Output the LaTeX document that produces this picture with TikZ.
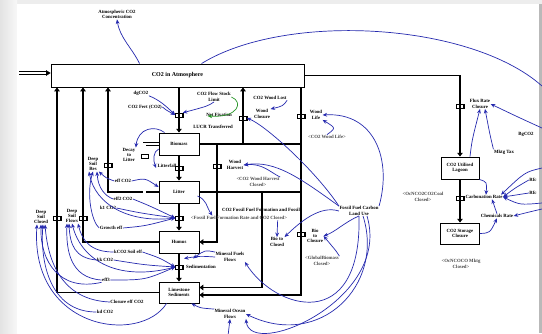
\documentclass[tikz,border=0pt]{standalone}
\usepackage{fontspec}
\setmainfont{Liberation Serif}
\usetikzlibrary{arrows.meta,calc}
\definecolor{linkblue}{RGB}{38,42,175}
\definecolor{linkgreen}{RGB}{40,150,40}
\newcommand\dgfont{\fontsize{4.8}{5.3}\selectfont\bfseries}
\newcommand\dgbig{\fontsize{6}{6.5}\selectfont\bfseries}
\tikzset{
  stock/.style={draw, line width=0.9pt, fill=white, inner sep=0pt, font=\dgfont, align=center},
  pipe/.style={line width=1.8pt},
  flowp/.style={line width=1.8pt, -{Triangle[length=3.8pt,width=5.5pt]}},
  dpipe/.style={double, double distance=2.2pt, line width=0.6pt},
  valve/.style={draw, line width=0.5pt, minimum width=7pt, minimum height=4pt, inner sep=0pt},
  lbl/.style={font=\dgfont, align=center, inner sep=0.4pt},
  shadowlbl/.style={lbl, text=black!72},
  link/.style={draw=linkblue, line width=0.7pt, -{Stealth[length=4.5pt,width=3.8pt]}},
  linkn/.style={draw=linkblue, line width=0.7pt},
  glink/.style={draw=linkgreen, line width=0.7pt, -{Stealth[length=4.5pt,width=3.8pt]}},
}
\begin{document}
\begin{tikzpicture}[x=1pt,y=-1pt]
\useasboundingbox (0,0) rectangle (542,333);
% page background
\fill[gray!14] (0,0) rectangle (542,333);
\shade[left color=gray!22, right color=gray!6] (0,0) rectangle (17,333);
\fill[white] (17,4) rectangle (539,333);
\fill[gray!55] (539,4) rectangle (542,333);

% ---------- stocks ----------
\node[stock, font=\dgbig, minimum width=253pt, minimum height=23pt] (atm) at (177.5,75.5) {CO2 in Atmosphere};
\node[stock, minimum width=40pt, minimum height=22pt] (bio) at (179,144) {Biomass};
\node[stock, minimum width=40pt, minimum height=22pt] (oil) at (179,192) {Litter};
\node[stock, minimum width=40pt, minimum height=22pt] (hum) at (179,242) {Humus};
\node[stock, minimum width=40pt, minimum height=21pt] (lime) at (179,292.5) {Limestone\\Sediments};
\node[stock, minimum width=38pt, minimum height=22pt] (lag) at (460,168) {CO2 Utilised\\Lagoon};
\node[stock, minimum width=39pt, minimum height=21pt] (sto) at (460,233.5) {CO2 Storage\\Closure};

% ---------- junction coordinates ----------
\coordinate (src) at (19,73);
\coordinate (j1) at (243,144);
\coordinate (j2) at (217,144);
\coordinate (j3) at (301,144);
\coordinate (j4) at (262,192);
\coordinate (d1) at (144.5,144);
\coordinate (d2) at (144.5,237.5);
\coordinate (bigEnd) at (542,86);
\coordinate (rightA) at (542,128);
\coordinate (rightB) at (542,168);
\coordinate (rightC) at (542,203);
\coordinate (rightD) at (542,209);
\coordinate (bot1) at (228,336);

% ---------- valves ----------
\node[valve] (v1) at (179,115) {};
\node[valve] (v2) at (179,168) {};
\node[valve] (v3) at (179,218) {};
\node[valve] (v4) at (179,267) {};
\node[valve] (v5) at (57,218) {};
\node[valve] (v6) at (83,218) {};
\node[valve] (v7) at (108,165) {};
\node[valve] (v8) at (243,118) {};
\node[valve] (v9) at (217,166) {};
\node[valve] (v10) at (301,116) {};
\node[valve] (v11) at (301,234) {};
\node[valve] (v12) at (460,106) {};
\node[valve] (v13) at (460,198) {};
\node[valve] (v14) at (144.5,156) {};

% ---------- flows ----------
\draw[dpipe] (src) -- ($(atm.west|-src)+(-4,0)$);
\draw[-{Triangle[length=4.5pt,width=5.5pt]}, line width=0.3pt] ($(atm.west|-src)+(-4.5,0)$) -- (atm.west|-src);
\draw[flowp] (atm.south -| v1) -- (bio.north);
\draw[flowp] (bio.south) -- (oil.north);
\draw[flowp] (oil.south) -- (hum.north);
\draw[flowp] (hum.south) -- (lime.north);
\draw[flowp] (lime.west) -| (atm.south -| v5);
\draw[flowp] (hum.west) -| (atm.south -| v6);
\draw[flowp] (oil.west) -| (atm.south -| v7);
\draw[dpipe] (bio.west |- d1) -- (d1) -- (d2) -- (hum.west |- d2);
\draw[pipe] (bio.east) -- (j3);
\draw[flowp] (j1) -- (atm.south -| j1);
\draw[flowp] (j2) |- (hum.east);
\draw[flowp] (atm.south -| j3) |- ($(lime.east)+(0,2.5)$);
\draw[pipe] (oil.east) -- (oil.east -| j3);
\draw[flowp] (j4) |- ($(lime.east)+(0,-5)$);
\draw[flowp] (atm.east) -| (lag.north);
\draw[flowp] (lag.south) -- (sto.north);

% redraw valves on top
\foreach \v in {v1,v2,v3,v4,v5,v6,v7,v8,v9,v10,v11,v12,v13,v14}
  \draw[line width=0.5pt] (\v.north west) rectangle (\v.south east);

% ---------- labels ----------
\node[lbl] (lAtmC) at (117,14.5) {Atmospheric CO2\\Concentration};
\node[lbl] (lDgco) at (141,93) {dgCO2};
\node[lbl] (lDtco) at (145,107) {CO2 Fert (CO2)};
\node[lbl] (lStock) at (214,97) {CO2 Flow Stock\\Limit};
\node[lbl] (lNetFix) at (219,115) {Net Fixation};
\node[lbl] (lLucr) at (213,127) {LUCR Transferred};
\node[lbl] (lWoodLost) at (270,98) {CO2 Wood Lost};
\node[lbl] (lWoodCl) at (262,114) {Wood\\Closure};
\node[lbl] (lWoodLife) at (316,115) {Wood\\Life};
\node[shadowlbl] (lWoodLifeC) at (327,137) {<CO2 Wood Life>};
\node[lbl] (lWoodH) at (235,165) {Wood\\Harvest};
\node[shadowlbl] (lWoodHC) at (258,182) {<CO2 Wood Harvest\\Closed>};
\node[lbl] (lDecay) at (129,155) {Decay\\to\\Litter};
\node[lbl] (lLitter) at (167,166) {Litterfall};
\node[lbl] (lDeepRes) at (93,164) {Deep\\Soil\\Res};
\node[lbl] (lDeepFl) at (72,216) {Deep\\Soil\\Flows};
\node[lbl] (lDeepCl) at (41,217) {Deep\\Soil\\Closed};
\node[lbl] (lE1) at (123,181) {eff CO2};
\node[lbl] (lE2) at (123,199) {eff2 CO2};
\node[lbl] (lE3) at (108,208) {k1 CO2};
\node[lbl] (lE4) at (111,228) {Growth eff};
\node[lbl] (lE5) at (128,252) {kCO2 Soil eff};
\node[lbl] (lE6) at (105,260) {kk CO2};
\node[lbl] (lE7) at (106,280) {eff3};
\node[lbl] (lE8) at (127,302) {Closure eff CO2};
\node[lbl] (lE9) at (105,312) {kd CO2};
\node[lbl] (lFosA) at (261,210) {CO2 Fossil Fuel Formation and Fossil};
\node[shadowlbl] (lFosB) at (239,218) {<Fossil Fuel Formation Rate and CO2 Closed>};
\node[lbl] (lMinF) at (230,257) {Mineral Fuels\\Flows};
\node[lbl] (lSed) at (201,267) {Sedimentation};
\node[lbl] (lMinO) at (230,314) {Mineral Ocean\\Flows};
\node[lbl] (lFFLU) at (359,211) {Fossil Fuel Carbon\\Land Use};
\node[lbl] (lBioCl) at (315,236) {Bio\\to\\Closure};
\node[lbl] (lBio2) at (277,242) {Bio to\\Closed};
\node[shadowlbl] (lGlob) at (322,261) {<GlobalBiomass\\Closed>};
\node[shadowlbl] (lOcN) at (423,197) {<OcNCO2CO2Coal\\Closed>};
\node[shadowlbl] (lOcM) at (461,264) {<OcNCOCO Mktg\\Closed>};
\node[lbl] (lFlux) at (480,104) {Flux Rate\\Closure};
\node[lbl] (lBg) at (526,134) {BgCO2};
\node[lbl] (lMktg) at (504,152) {Mktg Tax};
\node[lbl] (lCarb) at (484,197) {Carbonation Rate};
\node[lbl] (lChem) at (497,216) {Chemicals Rate};
\node[lbl] (lRf1) at (533,180) {Rfc};
\node[lbl] (lRf2) at (533,193) {Rfc};

% ---------- links ----------
\draw[link] ($(atm.north west)+(89,0)$) .. controls (132,48) and (120,38) .. (lAtmC.south);
\draw[linkn] ($(atm.north west)+(151,0)$) .. controls (285,12) and (470,22) .. (bigEnd);
\draw[link] (lDgco.south east) .. controls (160,100) and (168,108) .. (v1.west);
\draw[link] (lDtco.east) .. controls (166,110) .. (v1.west);
\draw[glink] (lStock.east) .. controls (244,102) and (238,118) .. ($(lNetFix.west)+(2,1)$);
\draw[link] (lStock.south) .. controls (208,106) .. (v1.north east);
\draw[link] (lFFLU.north west) .. controls (315,170) and (265,125) .. (v8.east);
\draw[link] (lFFLU.north east) .. controls (392,160) and (375,112) .. (lWoodLife.east);
\draw[link] (lWoodLifeC.north) .. controls (336,128) .. (lWoodLife.south east);
\draw[link] (lWoodLost.south east) .. controls (283,106) .. (lWoodCl.north east);
\draw[link] (lFFLU.north west) .. controls (300,178) and (275,160) .. (lWoodH.east);
\draw[link] (lWoodHC.north east) .. controls (270,172) and (262,163) .. (lWoodH.east);
\draw[link] (lFFLU.west) .. controls (320,205) and (300,222) .. (lBio2.north east);
\draw[link] (lFFLU.south) .. controls (345,222) and (335,232) .. (lBioCl.east);
\draw[link] (lGlob.north east) .. controls (337,252) .. (lBioCl.east);
\draw[link] ($(lFosB.south east)+(-10,0)$) -- (lBio2.north);
\draw[link] ($(lFFLU.south)+(4,0)$) .. controls (385,285) and (320,350) .. (lMinO.east);
\draw[link] ($(lFFLU.south)+(8,0)$) .. controls (392,300) and (250,360) .. (lMinO.south east);
\draw[link] (lFFLU.south) .. controls (362,335) and (275,310) .. (lMinF.south east);
\draw[link] (lMinO.north west) .. controls (200,308) .. ($(lime.south east)+(-8,0)$);
\draw[link] (bot1) -- (lMinO.south);
\draw[link] (lMinF.west) .. controls (200,256) .. ($(hum.south)+(5,5)$);
\draw[link] (lMinF.north west) .. controls (205,250) .. ($(hum.south)+(14,5)$);
\draw[link] ($(oil.east)+(-2,4)$) .. controls (207,200) and (206,206) .. ($(lFosB.north west)+(22,0)$);
\draw[link] (lE1.east) .. controls (145,178) .. ($(oil.west)+(0,-5)$);
\draw[link] (lE2.east) .. controls (150,206) .. (v3.west);
\draw[link] (lE3.east) .. controls (140,213) .. (v3.west);
\draw[link] (lE4.east) .. controls (145,226) .. (v3.west);
\draw[link] (lE5.east) .. controls (160,258) .. (v4.west);
\draw[link] (lE6.east) .. controls (145,265) .. (v4.west);
\draw[link] (lE7.east) .. controls (145,280) .. (v4.west);
\draw[link] (v3.west) .. controls (130,224) and (95,205) .. ($(lDeepRes.south)+(-4,0)$);
\draw[link] (lE2.west) .. controls (105,196) and (98,188) .. ($(lDeepRes.south)+(4,0)$);
\draw[link] (lE4.west) .. controls (92,222) and (86,195) .. (lDeepRes.south);
\draw[link] (lE1.west) .. controls (106,178) .. (lDeepRes.south east);
\draw[link] (lE5.west) .. controls (90,252) and (82,240) .. ($(lDeepFl.south)+(6,0)$);
\draw[link] (lE6.west) .. controls (75,258) and (70,245) .. ($(lDeepFl.south)+(-3,0)$);
\draw[link] (lE7.west) .. controls (70,278) and (66,250) .. ($(lDeepFl.south)+(-5,0)$);
\draw[link] (v4.west) .. controls (120,282) and (82,262) .. (lDeepFl.south);
\draw[link] (lE9.west) .. controls (50,312) and (40,262) .. ($(lDeepCl.south)+(2,0)$);
\draw[link] (lE8.west) .. controls (62,300) and (48,262) .. ($(lDeepCl.south)+(4,0)$);
\draw[link] (lE7.south west) .. controls (60,292) and (40,262) .. (lDeepCl.south);
\draw[link] ($(lime.south west)+(8,0)$) .. controls (140,345) and (30,330) .. ($(lDeepCl.south)+(-4,0)$);
\draw[link] ($(bio.north west)+(6,0)$) .. controls (155,125) and (138,128) .. (lDecay.north east);
\draw[link] ($(bio.west)+(0,5)$) .. controls (153,152) and (153,160) .. ($(lLitter.west)+(-1,2)$);
\draw[link] ($(lag.north)+(10,0)$) .. controls (472,140) .. (lFlux.south);
\draw[link] (lMktg.north west) .. controls (490,135) .. ($(lFlux.south)+(5,0)$);
\draw[link] (rightA) .. controls (520,118) .. (lFlux.east);
\draw[link] (lag.south east) .. controls (487,182) .. ($(lCarb.north)+(2,0)$);
\draw[link] (rightB) .. controls (525,172) .. ($(lCarb.north east)+(-2,0)$);
\draw[link] (lRf1.west) .. controls (515,188) .. (lCarb.east);
\draw[link] (lRf2.west) -- (lCarb.east);
\draw[link] (rightC) .. controls (520,205) .. (lCarb.east);
\draw[link] (rightD) .. controls (525,213) .. (lChem.east);
\draw[link] (lChem.north) -- ($(lCarb.south)+(8,0)$);
\draw[link] (sto.east) .. controls (490,233) .. (lChem.south);
\end{tikzpicture}
\end{document}
